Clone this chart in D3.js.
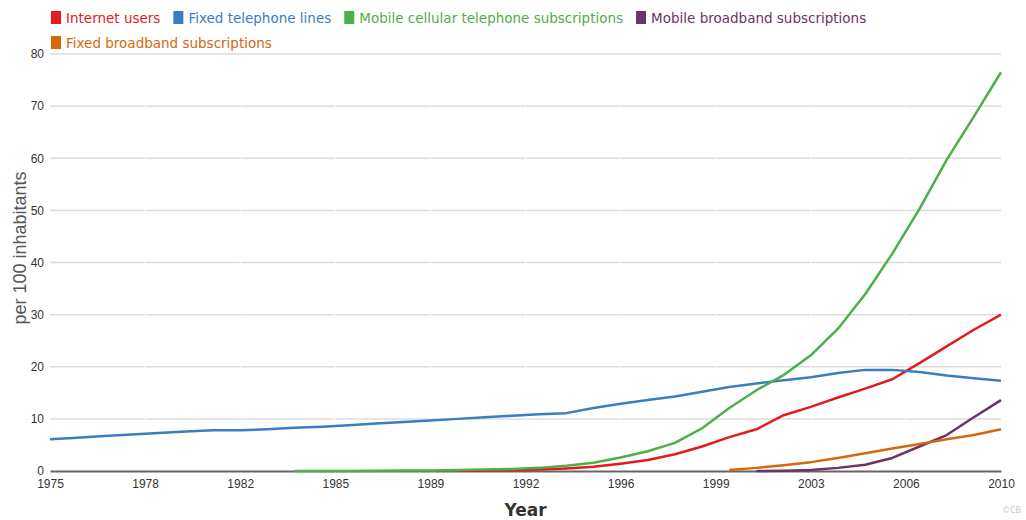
<!DOCTYPE html>
<html>
<head>
<meta charset="utf-8">
<script src="https://cdn.jsdelivr.net/npm/d3@7"></script>
<style>
  body { margin: 0; background: #fff; }
  svg { display: block; font-family: "DejaVu Sans", Verdana, sans-serif; }
</style>
</head>
<body>
<script>
// world ICT indicators, per 100 inhabitants
var internetYears = d3.range(1990, 2011);
var internetUsers = [0.05, 0.1, 0.2, 0.3, 0.5, 0.8, 1.4, 2.1, 3.2, 4.7, 6.5, 8.0, 10.7, 12.3, 14.1, 15.8, 17.6, 20.7, 23.9, 27.1, 30.0];

var fixedTelYears = d3.range(1975, 2011);
var fixedTel = [6.1, 6.4, 6.7, 7.0, 7.3, 7.6, 7.8, 7.8, 8.0, 8.3, 8.5, 8.8, 9.1, 9.4, 9.7, 10.0, 10.3, 10.6, 10.9, 11.1,
  12.1, 12.9, 13.6, 14.3, 15.2, 16.1, 16.8, 17.4, 18.0, 18.8, 19.4, 19.4, 19.0, 18.3, 17.8, 17.3];

var mobileYears = d3.range(1984, 2011);
var mobileCell = [0.0, 0.0, 0.0, 0.05, 0.1, 0.1, 0.2, 0.3, 0.4, 0.6, 1.0, 1.6, 2.6, 3.8, 5.4, 8.2, 12.1, 15.5, 18.4, 22.2, 27.3, 33.9, 41.7, 50.3, 59.7, 68.0, 76.5];

var mobBbYears = d3.range(2001, 2011);
var mobileBroadband = [0.0, 0.05, 0.2, 0.6, 1.2, 2.5, 4.7, 6.9, 10.3, 13.6];

var fixBbYears = d3.range(2000, 2011);
var fixedBroadband = [0.2, 0.6, 1.1, 1.7, 2.5, 3.4, 4.3, 5.2, 6.1, 6.9, 8.0];

var seriesNames = ['Internet users', 'Fixed telephone lines', 'Mobile cellular telephone subscriptions', 'Mobile broadband subscriptions', 'Fixed broadband subscriptions'];
var seriesColors = ['#e41a1c', '#3a7dc0', '#4daf4a', '#6b3466', '#d2690e'];

var yTicks = [0, 10, 20, 30, 40, 50, 60, 70, 80];

var series = [
  { name: seriesNames[0], years: internetYears, values: internetUsers },
  { name: seriesNames[1], years: fixedTelYears, values: fixedTel },
  { name: seriesNames[2], years: mobileYears, values: mobileCell },
  { name: seriesNames[3], years: mobBbYears, values: mobileBroadband },
  { name: seriesNames[4], years: fixBbYears, values: fixedBroadband }
];

var W = 1026, H = 520;
var margin = { top: 54, right: 25, bottom: 49, left: 50 },
  width = W - margin.left - margin.right,
  height = H - margin.top - margin.bottom;

var svg = d3.select('body').append('svg')
  .attr('width', W)
  .attr('height', H);

var x = d3.scaleLinear().domain([1975, 2010]).range([0, width]);
var y = d3.scaleLinear().domain([0, 80]).range([height, 0]);

var g = svg.append('g').attr('transform', 'translate(' + margin.left + ',' + margin.top + ')');

// horizontal grid
g.append('g')
  .selectAll('line')
  .data(yTicks.slice(1))
  .enter().append('line')
  .attr('x1', 0).attr('x2', width)
  .attr('y1', function(d) { return y(d); })
  .attr('y2', function(d) { return y(d); })
  .style('stroke', '#dcdcdc')
  .style('stroke-width', 1.5);

// 11 evenly spaced x ticks, labels floored like the original
var xTicks = d3.range(11).map(function(i) { return 1975 + i * 3.5; });

// small white breaks in the gridlines at x ticks
g.append('g')
  .selectAll('line')
  .data(xTicks.slice(1, -1))
  .enter().append('line')
  .attr('x1', function(d) { return x(d); })
  .attr('x2', function(d) { return x(d); })
  .attr('y1', 0).attr('y2', height - 3)
  .style('stroke', '#fff')
  .style('stroke-width', 1);

// y axis labels
var yAxis = g.append('g')
  .call(d3.axisLeft(y).tickValues(yTicks).tickSize(0).tickPadding(6));
yAxis.select('.domain').remove();
yAxis.selectAll('text')
  .style('font-size', '12px')
  .style('fill', '#333');

// x axis
var xAxis = g.append('g')
  .attr('transform', 'translate(0,' + height + ')')
  .call(d3.axisBottom(x).tickValues(xTicks).tickSize(0).tickPadding(8)
    .tickFormat(function(d) { return Math.floor(d); }));
xAxis.select('.domain')
  .style('stroke', '#666')
  .style('stroke-width', 2);
xAxis.selectAll('text')
  .style('font-size', '12px')
  .style('fill', '#333');

// lines
var line = d3.line()
  .x(function(d) { return x(d[0]); })
  .y(function(d) { return y(d[1]); });

series.forEach(function(s, i) {
  var pts = s.years.map(function(yr, j) { return [yr, s.values[j]]; });
  g.append('path')
    .datum(pts)
    .attr('d', line)
    .style('fill', 'none')
    .style('stroke', seriesColors[i])
    .style('stroke-width', 2.5)
    .style('stroke-linejoin', 'round');
});

// axis titles
svg.append('text')
  .attr('x', margin.left + width / 2)
  .attr('y', 516)
  .style('text-anchor', 'middle')
  .style('font-size', '17px')
  .style('font-weight', 'bold')
  .style('fill', '#333')
  .text('Year');

svg.append('text')
  .attr('transform', 'rotate(-90)')
  .attr('x', -248)
  .attr('y', 26)
  .style('text-anchor', 'middle')
  .style('font-family', '"Liberation Sans", Arial, sans-serif')
  .style('font-size', '18px')
  .style('fill', '#555')
  .text('per 100 inhabitants');

// legend
var legend = svg.append('g');
var lx = 51, ly = 11;
seriesNames.forEach(function(name, i) {
  var item = legend.append('g');
  item.append('rect')
    .attr('width', 10).attr('height', 13)
    .style('fill', seriesColors[i]);
  var t = item.append('text')
    .attr('x', 15).attr('y', 11.5)
    .style('font-size', '13.5px')
    .style('fill', seriesColors[i])
    .text(name);
  var w = 15 + t.node().getComputedTextLength();
  if (lx + w > 900) { lx = 51; ly += 25; }
  item.attr('transform', 'translate(' + lx + ',' + ly + ')');
  lx += w + 13;
});

svg.append('text')
  .attr('x', 1021).attr('y', 513)
  .style('text-anchor', 'end')
  .style('font-size', '8px')
  .style('fill', '#ccc')
  .text('©CB');
</script>
</body>
</html>
